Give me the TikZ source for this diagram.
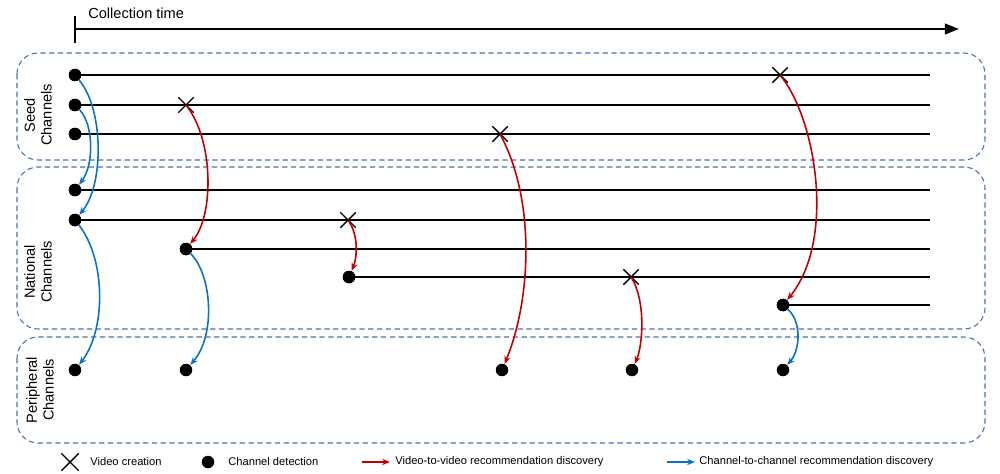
\documentclass[tikz,border=0pt]{standalone}
\usepackage{fontspec}
\setmainfont{Liberation Sans}
\usetikzlibrary{arrows.meta,shapes.misc}
\definecolor{vred}{HTML}{C00000}
\definecolor{cblue}{HTML}{0A72C4}
\definecolor{boxc}{HTML}{4F6FA8}
\begin{document}
\begin{tikzpicture}[x=0.02cm,y=-0.02cm,
  chline/.style={line width=1.1pt,black},
  dot/.style={circle,fill=black,inner sep=0pt,minimum size=0.25cm},
  xmark/.style={cross out,draw=black,line width=0.8pt,inner sep=0pt,minimum size=0.28cm},
  redarr/.style={vred,line width=0.9pt,-{Stealth[length=4.5pt,width=3.5pt]}},
  bluearr/.style={cblue,line width=0.9pt,-{Stealth[length=4.5pt,width=3.5pt]}},
  group/.style={boxc,dashed,dash pattern=on 3pt off 2pt,line width=0.6pt,rounded corners=0.42cm},
  grouplabel/.style={rotate=90,align=center,font=\fontsize{8.3}{9.5}\selectfont,inner sep=0pt},
  legtext/.style={anchor=west,font=\fontsize{6.35}{8}\selectfont,inner sep=0pt}
]
\useasboundingbox (0,0) rectangle (1000,473);
% timeline
\coordinate (t0) at (75,29);
\coordinate (t1) at (959,29);
\coordinate (ta) at (75,16);
\coordinate (tb) at (75,43);
\draw[line width=1.4pt] (ta) -- (tb);
\draw[line width=1.3pt,-{Triangle[length=8pt,width=6pt]}] (t0) -- (t1);
\node[anchor=west,font=\fontsize{8.3}{9.5}\selectfont,inner sep=0pt] (tl) at (88,13) {Collection time};
% groups
\draw[group] (17,53) rectangle (985,160);
\draw[group] (17,167) rectangle (985,329);
\draw[group] (17,337) rectangle (985,443);
\node[grouplabel] (gl1) at (38,115) {Seed\\Channels};
\node[grouplabel] (gl2) at (38,272) {National\\Channels};
\node[grouplabel] (gl3) at (40,390) {Peripheral\\Channels};
% line end coordinates
\coordinate (e1) at (930,75);
\coordinate (e2) at (930,105);
\coordinate (e3) at (930,134);
\coordinate (e4) at (930,190);
\coordinate (e5) at (930,220);
\coordinate (e6) at (930,249);
\coordinate (e7) at (930,277);
\coordinate (e8) at (930,305);
% dots
\node[dot] (s1) at (75,75) {};
\node[dot] (s2) at (75,105) {};
\node[dot] (s3) at (75,134) {};
\node[dot] (n1) at (75,190) {};
\node[dot] (n2) at (75,220) {};
\node[dot] (n3) at (186,249) {};
\node[dot] (n4) at (349,277) {};
\node[dot] (n5) at (783,305) {};
\node[dot] (p1) at (75,370) {};
\node[dot] (p2) at (186,370) {};
\node[dot] (p3) at (502,370) {};
\node[dot] (p4) at (632,370) {};
\node[dot] (p5) at (783,370) {};
% channel lines
\draw[chline] (s1.center) -- (e1);
\draw[chline] (s2.center) -- (e2);
\draw[chline] (s3.center) -- (e3);
\draw[chline] (n1.center) -- (e4);
\draw[chline] (n2.center) -- (e5);
\draw[chline] (n3.center) -- (e6);
\draw[chline] (n4.center) -- (e7);
\draw[chline] (n5.center) -- (e8);
% redraw dots on top
\foreach \d in {s1,s2,s3,n1,n2,n3,n4,n5}{\fill (\d.center) circle (0.125cm);}
% crosses
\node[xmark] (x1) at (186,105) {};
\node[xmark] (x2) at (500,134) {};
\node[xmark] (x3) at (780,75) {};
\node[xmark] (x4) at (348,220) {};
\node[xmark] (x5) at (631,277) {};
% channel-to-channel
\draw[bluearr] (s1) .. controls (104,110) and (104,185) .. (n2);
\draw[bluearr] (s2) .. controls (94,125) and (94,165) .. (n1);
\draw[bluearr] (n2) .. controls (106,260) and (106,330) .. (p1);
\draw[bluearr] (n3) .. controls (212,275) and (216,335) .. (p2);
\draw[bluearr] (n5) .. controls (802,322) and (800,350) .. (p5);
% video-to-video
\draw[redarr] (x1.center) .. controls (214,140) and (214,215) .. (n3);
\draw[redarr] (x4.center) .. controls (359,235) and (357,258) .. (n4);
\draw[redarr] (x2.center) .. controls (536,200) and (531,300) .. (p3);
\draw[redarr] (x5.center) .. controls (646,300) and (643,345) .. (p4);
\draw[redarr] (x3.center) .. controls (816,118) and (836,240) .. (n5);
% legend
\node[xmark,minimum size=0.32cm] (lx) at (70,462) {};
\node[legtext] (lxt) at (90,462) {Video creation};
\node[dot] (ld) at (208,462) {};
\node[legtext] (ldt) at (228,462) {Channel detection};
\coordinate (lr0) at (362,462);
\coordinate (lr1) at (390,462);
\draw[redarr] (lr0) -- (lr1);
\node[legtext] (lrt) at (395,462) {Video-to-video recommendation discovery};
\coordinate (lb0) at (667,462);
\coordinate (lb1) at (695,462);
\draw[bluearr] (lb0) -- (lb1);
\node[legtext] (lbt) at (699,462) {Channel-to-channel recommendation discovery};
\end{tikzpicture}
\end{document}
